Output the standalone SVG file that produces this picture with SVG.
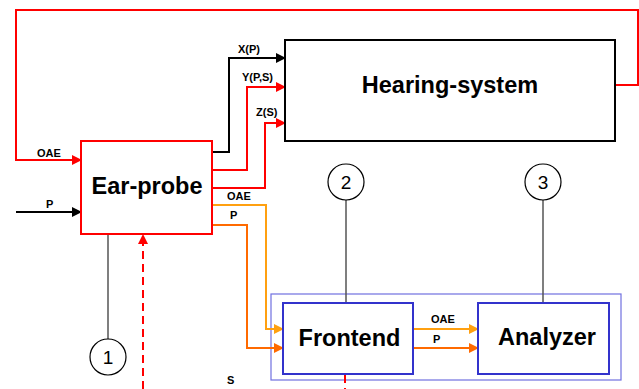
<svg xmlns="http://www.w3.org/2000/svg" width="639" height="389" viewBox="0 0 639 389">
<defs>
<style>
.big{font-family:"Liberation Sans",Arial,sans-serif;font-weight:bold;font-size:23.5px;fill:#000;text-anchor:middle}
.lbl{font-family:"Liberation Sans",Arial,sans-serif;font-weight:bold;font-size:11px;fill:#000}
.num{font-family:"Liberation Sans",Arial,sans-serif;font-size:19px;fill:#000;text-anchor:middle}
.c{fill:none;stroke-width:2}
.red{stroke:#FF0000}
.blk{stroke:#000}
.oae{stroke:#FFA010}
.p{stroke:#FF6A00}
.gray{fill:none;stroke:#555;stroke-width:1.5}
.dash{fill:none;stroke:#FF0000;stroke-width:2;stroke-dasharray:8,5}
</style>
<marker id="aRed" markerWidth="10" markerHeight="10" refX="9" refY="5" orient="auto" markerUnits="userSpaceOnUse"><path d="M0,0 L10,5 L0,10 Z" fill="#FF0000"/></marker>
<marker id="aBlk" markerWidth="10" markerHeight="10" refX="9" refY="5" orient="auto" markerUnits="userSpaceOnUse"><path d="M0,0 L10,5 L0,10 Z" fill="#000"/></marker>
<marker id="aOae" markerWidth="10" markerHeight="10" refX="9" refY="5" orient="auto" markerUnits="userSpaceOnUse"><path d="M0,0 L10,5 L0,10 Z" fill="#FFA010"/></marker>
<marker id="aP" markerWidth="10" markerHeight="10" refX="9" refY="5" orient="auto" markerUnits="userSpaceOnUse"><path d="M0,0 L10,5 L0,10 Z" fill="#FF6A00"/></marker>
</defs>
<rect width="639" height="389" fill="#fff"/>

<g id="system-boundary">
<rect x="271" y="294" width="350" height="86" fill="none" stroke="#7070E0" stroke-width="1.2"/>
</g>

<g id="connectors">
<path class="c red" d="M615,85 H638 V10 H16 V160 H81" marker-end="url(#aRed)"/>
<path class="c blk" d="M16,212 H81" marker-end="url(#aBlk)"/>
<path class="c blk" d="M212,152 H229 V58 H285" marker-end="url(#aBlk)"/>
<path class="c red" d="M212,170 H247 V87 H285" marker-end="url(#aRed)"/>
<path class="c red" d="M212,188 H265 V123 H285" marker-end="url(#aRed)"/>
<path class="c oae" d="M212,205 H266 V329 H283" marker-end="url(#aOae)"/>
<path class="c p" d="M212,225 H247 V348 H283" marker-end="url(#aP)"/>
<path class="c oae" d="M413,329 H478" marker-end="url(#aOae)"/>
<path class="c p" d="M413,348 H478" marker-end="url(#aP)"/>
<path class="dash" d="M143,389 V243"/>
<path d="M138,244 L143,234 L148,244 Z" fill="#FF0000"/>
<path class="dash" d="M345,375 V389"/>
<path class="gray" d="M108,234 V339"/>
<path class="gray" d="M346,200 V303"/>
<path class="gray" d="M543,200 V303"/>
</g>

<g id="labels">
<text class="lbl" x="37" y="157">OAE</text>
<text class="lbl" x="46" y="208">P</text>
<text class="lbl" x="238" y="53">X(P)</text>
<text class="lbl" x="242" y="81">Y(P,S)</text>
<text class="lbl" x="256" y="116">Z(S)</text>
<text class="lbl" x="227" y="200">OAE</text>
<text class="lbl" x="230" y="219">P</text>
<text class="lbl" x="431" y="323">OAE</text>
<text class="lbl" x="433" y="343">P</text>
<text class="lbl" x="227" y="384">S</text>
</g>

<g id="hearing-system">
<rect x="285" y="40" width="330" height="101" fill="#fff" stroke="#000" stroke-width="2"/>
<text class="big" x="450" y="93">Hearing-system</text>
</g>

<g id="ear-probe">
<rect x="81" y="141" width="131" height="93" fill="#fff" stroke="#FF0000" stroke-width="2"/>
<text class="big" x="147" y="194">Ear-probe</text>
</g>

<g id="frontend">
<rect x="283" y="303" width="130" height="71" fill="#fff" stroke="#3333CC" stroke-width="2"/>
<text class="big" x="349.5" y="346">Frontend</text>
</g>

<g id="analyzer">
<rect x="478" y="303" width="131" height="71" fill="#fff" stroke="#3333CC" stroke-width="2"/>
<text class="big" x="547" y="345">Analyzer</text>
</g>

<g id="marker-1">
<circle cx="108" cy="357" r="18" fill="#fff" stroke="#000" stroke-width="1.2"/>
<text class="num" x="108" y="364">1</text>
</g>
<g id="marker-2">
<circle cx="346" cy="182" r="18" fill="#fff" stroke="#000" stroke-width="1.2"/>
<text class="num" x="346" y="189">2</text>
</g>
<g id="marker-3">
<circle cx="543" cy="182" r="18" fill="#fff" stroke="#000" stroke-width="1.2"/>
<text class="num" x="543" y="189">3</text>
</g>
</svg>
